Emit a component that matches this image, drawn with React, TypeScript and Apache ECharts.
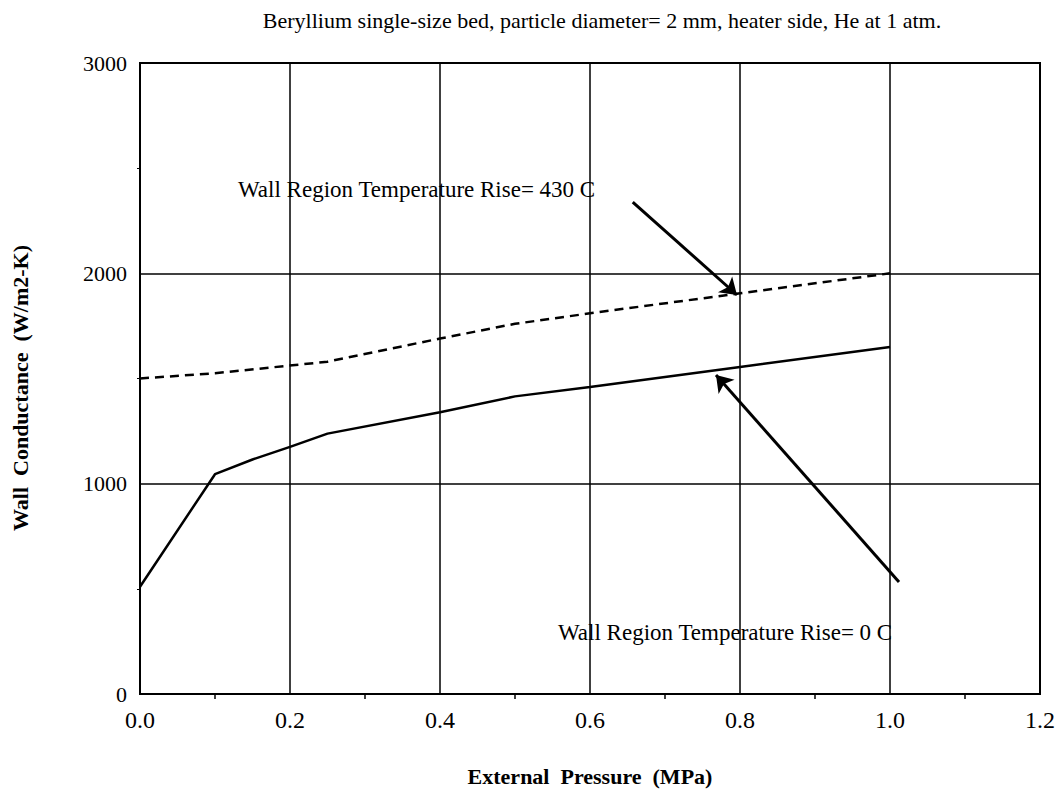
import React, { useEffect, useRef } from "react";
import * as echarts from "echarts";

const pressure430 = [0.0, 0.1, 0.25, 0.4, 0.5, 0.6, 0.8, 1.0];
const conductance430 = [1500, 1525, 1580, 1690, 1760, 1810, 1905, 2000];

const pressure0 = [0.0, 0.1, 0.15, 0.2, 0.25, 0.4, 0.5, 0.6, 0.8, 1.0];
const conductance0 = [510, 1045, 1115, 1175, 1238, 1340, 1415, 1460, 1555, 1650];

const arrow430 = [[0.657, 2339], [0.796, 1897]];
const arrow0 = [[1.012, 533], [0.768, 1517]];

const titleText = "Beryllium single-size bed, particle diameter= 2 mm, heater side, He at 1 atm.";
const xName = "External  Pressure  (MPa)";
const yName = "Wall  Conductance  (W/m2-K)";
const label430 = "Wall Region Temperature Rise= 430 C";
const label0 = "Wall Region Temperature Rise= 0 C";

const FONT = "'Liberation Serif', 'Times New Roman', serif";

export default function App() {
  const ref = useRef<HTMLDivElement>(null);
  useEffect(() => {
    document.body.style.margin = "0";
    const chart = echarts.init(ref.current!, null, { renderer: "svg" });
    chart.setOption({
      animation: false,
      backgroundColor: "#ffffff",
      textStyle: { fontFamily: FONT, color: "#000" },
      grid: {
        left: 140,
        top: 63,
        right: 18,
        bottom: 95,
        show: true,
        borderColor: "#000",
        borderWidth: 2,
      },
      xAxis: {
        type: "value",
        min: 0,
        max: 1.2,
        interval: 0.2,
        axisLine: { show: true, lineStyle: { color: "#000", width: 2 } },
        axisTick: { show: false },
        minorTick: { show: true, splitNumber: 2, length: 5, lineStyle: { color: "#000", width: 1.5 } },
        splitLine: { show: true, lineStyle: { color: "#000", width: 1.5 } },
        axisLabel: {
          fontFamily: FONT,
          fontSize: 24,
          color: "#000",
          margin: 14,
          formatter: (v: number) => v.toFixed(1),
        },
      },
      yAxis: {
        type: "value",
        min: 0,
        max: 3000,
        interval: 1000,
        axisLine: { show: true, lineStyle: { color: "#000", width: 2 } },
        axisTick: { show: false },
        minorTick: { show: true, splitNumber: 2, length: 3, lineStyle: { color: "#000", width: 1 } },
        splitLine: { show: true, lineStyle: { color: "#000", width: 1.5 } },
        axisLabel: {
          fontFamily: FONT,
          fontSize: 22,
          color: "#000",
          margin: 13,
          formatter: (v: number) => String(v),
        },
      },
      graphic: [
        {
          type: "text",
          x: 602,
          y: 20,
          style: {
            text: titleText,
            fontFamily: FONT,
            fontSize: 22,
            fill: "#000",
            align: "center",
            verticalAlign: "middle",
          },
        },
        {
          type: "text",
          x: 590,
          y: 776,
          style: {
            text: xName,
            fontFamily: FONT,
            fontSize: 22,
            fontWeight: "bold",
            fill: "#000",
            align: "center",
            verticalAlign: "middle",
          },
        },
        {
          type: "text",
          x: 20,
          y: 388,
          rotation: Math.PI / 2,
          style: {
            text: yName,
            fontFamily: FONT,
            fontSize: 22,
            fontWeight: "bold",
            fill: "#000",
            align: "center",
            verticalAlign: "middle",
          },
        },
        {
          type: "text",
          x: 238,
          y: 189,
          style: {
            text: label430,
            fontFamily: FONT,
            fontSize: 23,
            fill: "#000",
            align: "left",
            verticalAlign: "middle",
          },
        },
        {
          type: "text",
          x: 558,
          y: 632,
          style: {
            text: label0,
            fontFamily: FONT,
            fontSize: 23,
            fill: "#000",
            align: "left",
            verticalAlign: "middle",
          },
        },
      ],
      series: [
        {
          type: "line",
          data: pressure430.map((p, i) => [p, conductance430[i]]),
          showSymbol: false,
          lineStyle: { color: "#000", width: 2.5, type: [9, 6] },
          z: 5,
        },
        {
          type: "line",
          data: pressure0.map((p, i) => [p, conductance0[i]]),
          showSymbol: false,
          lineStyle: { color: "#000", width: 2.5 },
          z: 5,
        },
        {
          type: "lines",
          coordinateSystem: "cartesian2d",
          symbol: ["none", "arrow"],
          symbolSize: 16,
          lineStyle: { color: "#000", width: 3, opacity: 1 },
          data: [{ coords: arrow430 }, { coords: arrow0 }],
          z: 6,
        },
      ],
    });
    return () => chart.dispose();
  }, []);
  return <div ref={ref} style={{ width: 1058, height: 789 }} />;
}
